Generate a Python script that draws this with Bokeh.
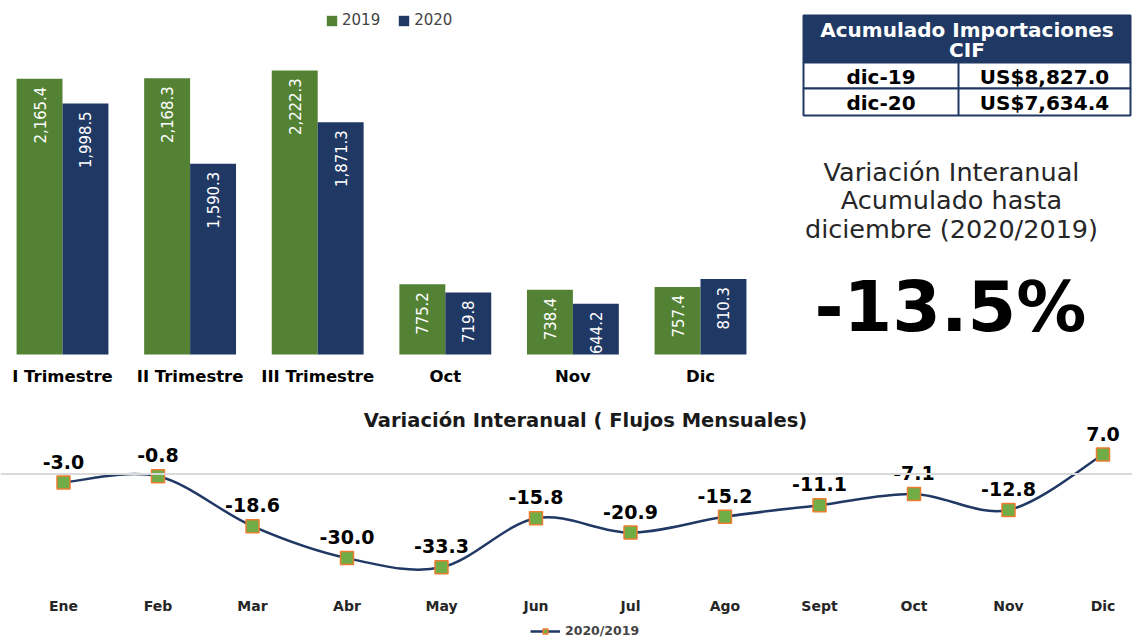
import math
from bokeh.plotting import figure
from bokeh.layouts import column, row
from bokeh.models import Range1d, Legend, LegendItem, Span, ColumnDataSource
from bokeh.core.properties import value
from bokeh.embed import file_html
from bokeh.resources import INLINE

# ---------------- data ----------------
quarters = ["I Trimestre", "II Trimestre", "III Trimestre", "Oct", "Nov", "Dic"]
imp_2019 = [2165.4, 2168.3, 2222.3, 775.2, 738.4, 757.4]
imp_2020 = [1998.5, 1590.3, 1871.3, 719.8, 644.2, 810.3]
series_names = ["2019", "2020"]

table_header = ["Acumulado Importaciones", "CIF"]
table_periods = ["dic-19", "dic-20"]
table_totals = ["US$8,827.0", "US$7,634.4"]

var_lines = ["Variación Interanual", "Acumulado hasta", "diciembre (2020/2019)"]
var_total = -13.5

months = ["Ene", "Feb", "Mar", "Abr", "May", "Jun", "Jul", "Ago", "Sept", "Oct", "Nov", "Dic"]
var_monthly = [-3.0, -0.8, -18.6, -30.0, -33.3, -15.8, -20.9, -15.2, -11.1, -7.1, -12.8, 7.0]
line_title = "Variación Interanual ( Flujos Mensuales)"
line_series = "2020/2019"

# ---------------- style ----------------
GREEN = "#548235"
NAVY = "#203864"
BOLD = value("DejaVu Sans")
NARROW = value("DejaVu Sans Condensed")

W = 1132
TOP_H = 400
BOT_H = 238
BAR_W = 780

# ---------------- bar chart ----------------
BAR_BASE = 300.0
K = 1 / 0.1478  # value units per pixel
p_bar = figure(width=BAR_W, height=TOP_H, output_backend="svg", toolbar_location=None,
               x_range=Range1d(-62 / 127.6, (BAR_W - 62) / 127.6),
               y_range=Range1d(BAR_BASE - (TOP_H - 354) * K, BAR_BASE + 354 * K),
               x_axis_type=None, y_axis_type=None, min_border=0)
p_bar.grid.visible = False
p_bar.outline_line_color = None

idx = list(range(len(quarters)))
src = ColumnDataSource(dict(
    x19=[i - 0.18 for i in idx], x20=[i + 0.18 for i in idx],
    v19=imp_2019, v20=imp_2020,
    t19=[f"{v:,.1f}" for v in imp_2019], t20=[f"{v:,.1f}" for v in imp_2020],
    l19=[v - 8 * K for v in imp_2019], l20=[v - 8 * K for v in imp_2020],
    cx=idx, cy=[BAR_BASE - 22 * K] * len(idx), cat=quarters,
))
r19 = p_bar.vbar(x="x19", top="v19", bottom=BAR_BASE, width=0.36, source=src,
                 fill_color=GREEN, line_color=None)
r20 = p_bar.vbar(x="x20", top="v20", bottom=BAR_BASE, width=0.36, source=src,
                 fill_color=NAVY, line_color=None)
for xc, yc, tc in (("x19", "l19", "t19"), ("x20", "l20", "t20")):
    p_bar.text(x=xc, y=yc, text=tc, source=src, angle=math.pi / 2,
               text_align="right", text_baseline="middle", text_color="white",
               text_font=NARROW, text_font_size="16.5px")
p_bar.text(x="cx", y="cy", text="cat", source=src, text_align="center",
           text_baseline="middle", text_font=BOLD, text_font_style="bold",
           text_font_size="16.5px", text_color="black")
leg = Legend(items=[LegendItem(label=series_names[0], renderers=[r19]),
                    LegendItem(label=series_names[1], renderers=[r20])],
             orientation="horizontal", location=(325, TOP_H - 29), glyph_width=13,
             glyph_height=13, label_height=13, label_standoff=4, spacing=17,
             padding=0, margin=0, border_line_color=None, background_fill_alpha=0,
             label_text_font="DejaVu Sans", label_text_font_size="15px",
             label_text_baseline="middle")
p_bar.add_layout(leg)

# ---------------- right panel ----------------
p_r = figure(width=W - BAR_W, height=TOP_H, output_backend="svg", toolbar_location=None,
             x_range=Range1d(BAR_W, W), y_range=Range1d(TOP_H, 0),
             x_axis_type=None, y_axis_type=None, min_border=0)
p_r.grid.visible = False
p_r.outline_line_color = None
TL, TR, TD = 803, 1130, 958
p_r.quad(left=TL, right=TR, top=15, bottom=62, fill_color=NAVY, line_color=NAVY, line_width=2)
p_r.quad(left=[TL, TL], right=[TR, TR], top=[62, 88], bottom=[88, 115],
         fill_color="white", line_color=NAVY, line_width=2)
p_r.segment(x0=[TD], y0=[62], x1=[TD], y1=[115], line_color=NAVY, line_width=2)
p_r.text(x=[(TL + TR) / 2] * 2, y=[29, 49], text=table_header, text_align="center",
         text_baseline="middle", text_font=BOLD, text_font_style="bold",
         text_font_size="20px", text_color="white")
p_r.text(x=[(TL + TD) / 2] * 2, y=[76, 102], text=table_periods, text_align="center",
         text_baseline="middle", text_font=BOLD, text_font_style="bold",
         text_font_size="20px", text_color="black")
p_r.text(x=[(TD + TR) / 2] * 2, y=[76, 102], text=table_totals, text_align="center",
         text_baseline="middle", text_font=BOLD, text_font_style="bold",
         text_font_size="20px", text_color="black")
p_r.text(x=[951] * 3, y=[171, 199, 228], text=var_lines, text_align="center",
         text_baseline="middle", text_font=value("DejaVu Sans"),
         text_font_size="25.5px", text_color="#262626")
p_r.text(x=[950], y=[306], text=[f"{var_total:.1f}%"], text_align="center",
         text_baseline="middle", text_font=BOLD, text_font_style="bold",
         text_font_size="70px", text_color="black")

# ---------------- line chart ----------------
S = 2.8  # px per unit
Z = 473.6 - TOP_H  # zero line inside the bottom figure
p_l = figure(width=W, height=BOT_H, output_backend="svg", toolbar_location=None,
             x_range=Range1d(-63 / 94.5, (W - 63) / 94.5),
             y_range=Range1d(-(BOT_H - Z) / S, Z / S),
             x_axis_type=None, y_axis_type=None, min_border=0)
p_l.grid.visible = False
p_l.outline_line_color = None
p_l.add_layout(Span(location=0, dimension="width", line_color="#D9D9D9", line_width=2))

n = len(var_monthly)
xs = list(range(n))
ys = var_monthly
b = dict(x0=[], y0=[], x1=[], y1=[], cx0=[], cy0=[], cx1=[], cy1=[])
for i in range(n - 1):
    i0, i3 = max(i - 1, 0), min(i + 2, n - 1)
    b["x0"].append(xs[i]); b["y0"].append(ys[i])
    b["x1"].append(xs[i + 1]); b["y1"].append(ys[i + 1])
    b["cx0"].append(xs[i] + (xs[i + 1] - xs[i0]) / 6)
    b["cy0"].append(ys[i] + (ys[i + 1] - ys[i0]) / 6)
    b["cx1"].append(xs[i + 1] - (xs[i3] - xs[i]) / 6)
    b["cy1"].append(ys[i + 1] - (ys[i3] - ys[i]) / 6)
p_l.bezier(x0="x0", y0="y0", x1="x1", y1="y1", cx0="cx0", cy0="cy0", cx1="cx1",
           cy1="cy1", source=ColumnDataSource(b), line_color=NAVY, line_width=2.5)
legline = p_l.line(x=[float("nan")], y=[float("nan")], line_color=NAVY, line_width=2.5)
lsrc = ColumnDataSource(dict(x=xs, y=ys, ly=[v + 7.5 for v in ys],
                             t=[f"{v:.1f}" for v in ys], m=months,
                             my=[-(605 - 473.6) / S] * n))
sc = p_l.scatter(x="x", y="y", source=lsrc, marker="square", size=13,
                 fill_color="#70AD47", line_color="#ED7D31", line_width=1.5)
p_l.text(x="x", y="ly", text="t", source=lsrc, text_align="center",
         text_baseline="middle", text_font=BOLD, text_font_style="bold",
         text_font_size="19px", text_color="black")
p_l.text(x="x", y="my", text="m", source=lsrc, text_align="center",
         text_baseline="middle", text_font=BOLD, text_font_style="bold",
         text_font_size="14px", text_color="#262626")
p_l.text(x=[(585 - 63) / 94.5], y=[(473.6 - 420) / S], text=[line_title],
         text_align="center", text_baseline="middle", text_font=BOLD,
         text_font_style="bold", text_font_size="19.5px", text_color="#1a1a1a")
leg2 = Legend(items=[LegendItem(label=line_series, renderers=[legline, sc])],
              location=(530, 0), glyph_width=30, glyph_height=12,
              label_height=12, label_standoff=5, padding=0, margin=0,
              border_line_color=None, background_fill_alpha=0,
              label_text_font="DejaVu Sans", label_text_font_style="bold",
              label_text_font_size="12.5px", label_text_baseline="middle")
p_l.add_layout(leg2)

layout = column(row(p_bar, p_r, spacing=0), p_l, spacing=0)
open("out.html", "w").write(file_html(layout, INLINE))
